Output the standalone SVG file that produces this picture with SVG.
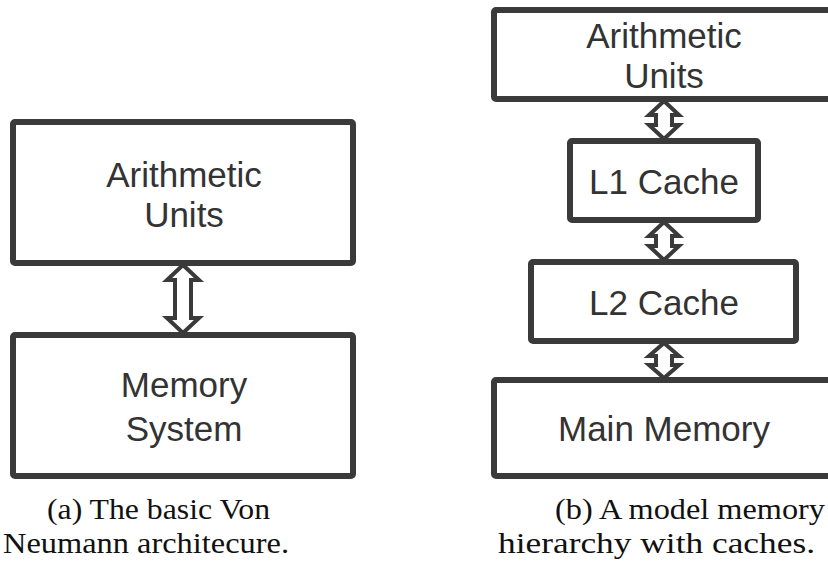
<svg xmlns="http://www.w3.org/2000/svg" width="828" height="561" viewBox="0 0 828 561">
  <style>
    .box { fill: #ffffff; stroke: #3a3a3a; stroke-width: 6; }
    .lbl { font-family: "Liberation Sans", Arial, sans-serif; font-size: 35px; fill: #333333; text-anchor: middle; }
    .arr { fill: #ffffff; stroke: #3a3a3a; stroke-width: 4; stroke-linejoin: miter; }
    .cap { font-family: "Liberation Serif", "Times New Roman", serif; font-size: 29px; fill: #111111; }
  </style>
  <rect width="828" height="561" fill="#ffffff"/>

  <!-- (a) Von Neumann -->
  <g id="a-arith">
    <rect class="box" x="13" y="122" width="340" height="141" rx="2"/>
    <text class="lbl" x="184" y="187">Arithmetic</text>
    <text class="lbl" x="184" y="227">Units</text>
  </g>
  <g id="a-memory">
    <rect class="box" x="13" y="335" width="340" height="141" rx="2"/>
    <text class="lbl" x="184" y="397">Memory</text>
    <text class="lbl" x="184" y="441">System</text>
  </g>

  <!-- (b) memory hierarchy -->
  <g id="b-arith">
    <rect class="box" x="494" y="10" width="345" height="89" rx="2"/>
    <text class="lbl" x="664" y="48">Arithmetic</text>
    <text class="lbl" x="664" y="88">Units</text>
  </g>
  <g id="b-l1">
    <rect class="box" x="570" y="141" width="188" height="79" rx="2"/>
    <text class="lbl" x="664" y="194">L1 Cache</text>
  </g>
  <g id="b-l2">
    <rect class="box" x="531" y="262" width="265" height="79" rx="2"/>
    <text class="lbl" x="664" y="315">L2 Cache</text>
  </g>
  <g id="b-main">
    <rect class="box" x="494" y="380" width="345" height="96" rx="2"/>
    <text class="lbl" x="664" y="441">Main Memory</text>
  </g>

  <g id="connectors">
    <path class="arr" d="M183,265 L199,280 L191,280 L191,318 L199,318 L183,333 L167,318 L175,318 L175,280 L167,280 Z"/>
    <path class="arr" d="M664,101 L679,115 L672,115 L672,125 L679,125 L664,139 L649,125 L656,125 L656,115 L649,115 Z"/>
    <path class="arr" d="M664,222 L679,236 L672,236 L672,246 L679,246 L664,260 L649,246 L656,246 L656,236 L649,236 Z"/>
    <path class="arr" d="M664,343 L679,356 L672,356 L672,365 L679,365 L664,378 L649,365 L656,365 L656,356 L649,356 Z"/>
  </g>

  <g id="captions">
    <text class="cap" x="47" y="519" textLength="223" lengthAdjust="spacingAndGlyphs">(a) The basic Von</text>
    <text class="cap" x="3" y="553" textLength="286" lengthAdjust="spacingAndGlyphs">Neumann architecure.</text>
    <text class="cap" x="555" y="519" textLength="270" lengthAdjust="spacingAndGlyphs">(b) A model memory</text>
    <text class="cap" x="498" y="553" textLength="317" lengthAdjust="spacingAndGlyphs">hierarchy with caches.</text>
  </g>
</svg>
